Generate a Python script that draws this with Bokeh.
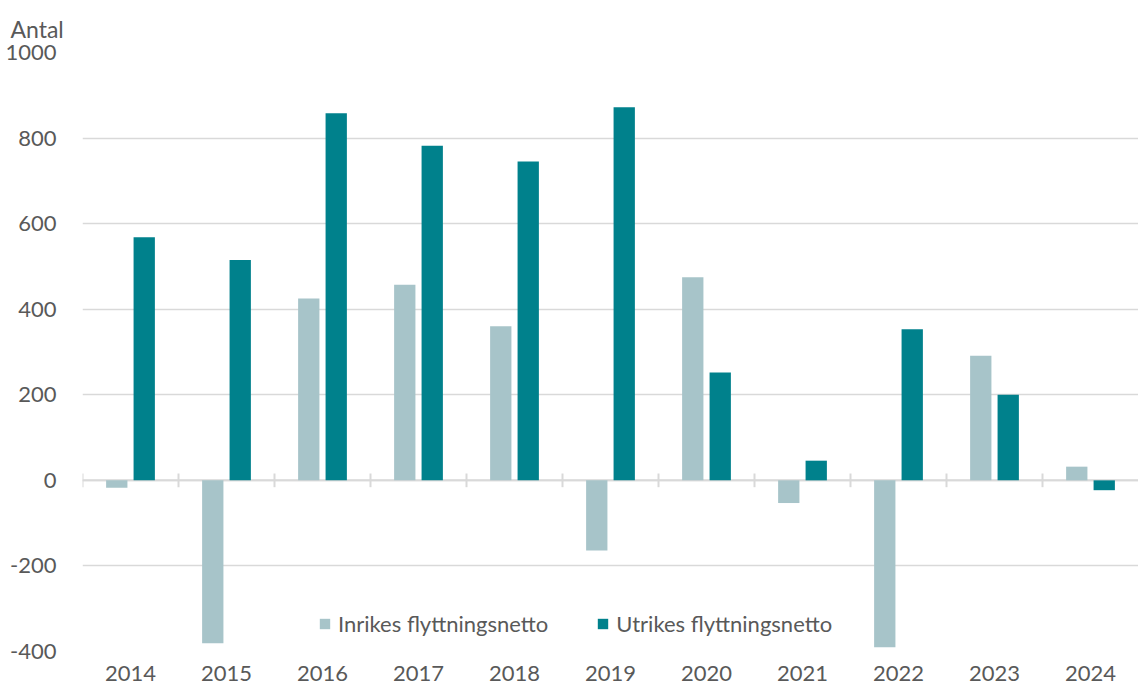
from bokeh.plotting import figure
from bokeh.models import ColumnDataSource, FixedTicker, Legend, LegendItem, Title, PrintfTickFormatter
from bokeh.transform import dodge
from bokeh.embed import file_html
from bokeh.resources import INLINE

years = ["2014", "2015", "2016", "2017", "2018", "2019", "2020", "2021", "2022", "2023", "2024"]
inrikes = [-17, -381, 425, 457, 360, -164, 475, -53, -390, 291, 32]
utrikes = [568, 515, 858, 782, 745, 872, 252, 46, 353, 200, -23]
y_ticks = [-400, -200, 0, 200, 400, 600, 800, 1000]
series_names = ["Inrikes flyttningsnetto", "Utrikes flyttningsnetto"]
colors = ["#A7C4C9", "#00818C"]

FONT = "Lato"
TXT = "#595959"
GRID = "#D9D9D9"

src = ColumnDataSource(dict(year=years, inrikes=inrikes, utrikes=utrikes,
                            zero=[0] * len(years), lo=[-16] * len(years), hi=[16] * len(years)))

p = figure(x_range=years, y_range=(-400, 1000), width=1138, height=691,
           output_backend="svg", toolbar_location=None,
           min_border_left=82, min_border_right=0, min_border_top=52, min_border_bottom=40)
p.x_range.range_padding = 0
p.outline_line_color = None
p.background_fill_color = "white"

# grid
p.xgrid.grid_line_color = None
p.ygrid.grid_line_color = GRID
p.ygrid.grid_line_width = 1.3
p.yaxis.ticker = FixedTicker(ticks=y_ticks)
p.yaxis.formatter = PrintfTickFormatter(format="%d")

# zero axis line with category boundary ticks
p.segment(x0=dodge("year", -0.5, range=p.x_range), y0="zero",
          x1=dodge("year", 0.5, range=p.x_range), y1="zero",
          source=src, line_color=GRID, line_width=2)
p.segment(x0=dodge("year", -0.5, range=p.x_range), y0="lo",
          x1=dodge("year", -0.5, range=p.x_range), y1="hi",
          source=src, line_color=GRID, line_width=2)

r1 = p.vbar(x=dodge("year", -0.143, range=p.x_range), top="inrikes", bottom=0, width=0.222,
            source=src, fill_color=colors[0], line_color=None)
r2 = p.vbar(x=dodge("year", 0.143, range=p.x_range), top="utrikes", bottom=0, width=0.222,
            source=src, fill_color=colors[1], line_color=None)

# axes
for ax in (p.xaxis, p.yaxis):
    ax.axis_line_color = None
    ax.major_tick_line_color = None
    ax.minor_tick_line_color = None
    ax.major_label_text_font = FONT
    ax.major_label_text_font_size = "22px"
    ax.major_label_text_color = TXT
p.xaxis.major_label_standoff = 8
p.yaxis.major_label_standoff = 20

# "Antal" label
t = Title(text="Antal", align="left", offset=-72, text_font=FONT, text_font_size="23px",
          text_color=TXT, text_font_style="normal", standoff=20)
p.add_layout(t, "above")

legend = Legend(items=[LegendItem(label=series_names[0], renderers=[r1]),
                       LegendItem(label=series_names[1], renderers=[r2])],
                orientation="horizontal", location=(236, 14),
                glyph_width=13, glyph_height=13, label_standoff=7, spacing=48,
                padding=0, margin=0, border_line_color=None, background_fill_alpha=0,
                label_text_font=FONT, label_text_font_size="22px", label_text_color=TXT)
p.add_layout(legend, "center")

open("out.html", "w").write(file_html(p, INLINE))
